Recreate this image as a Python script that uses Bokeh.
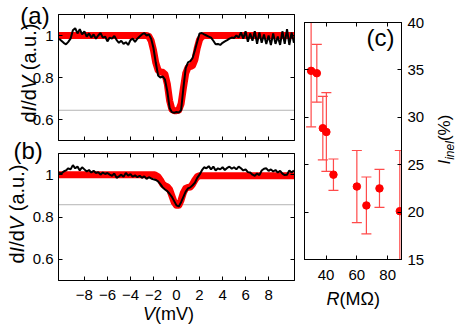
import math
from bokeh.plotting import figure
from bokeh.models import (LinearAxis, FixedTicker, CustomJSTickFormatter, Span, Label,
                          ColumnDataSource, CustomLabelingPolicy, Range1d)
from bokeh.layouts import row, column
from bokeh.embed import file_html
from bokeh.resources import INLINE

FONT = "Liberation Sans"

# ---------------- data ----------------
# bias voltage grid (mV) of the measured traces
v_meas = [round(-10.2 + 0.2 * i, 1) for i in range(103)]

# panel (a): measured dI/dV (a.u.)
g_meas_a = [
    0.985, 0.975, 0.965, 0.958, 0.970, 0.985, 1.025, 1.035, 1.010, 1.030,
    1.005, 1.020, 0.995, 1.010, 0.990, 1.005, 0.985, 1.000, 1.012, 0.990,
    0.995, 0.972, 0.990, 0.985, 0.998, 0.978, 0.965, 0.975, 0.960, 0.968,
    0.955, 0.978, 0.985, 0.970, 0.985, 0.995, 1.005, 1.012, 1.000, 1.005,
    0.985, 0.940, 0.870, 0.810, 0.800, 0.805, 0.790, 0.735, 0.655, 0.635,
    0.632, 0.636, 0.633, 0.645, 0.750, 0.845, 0.872, 0.878, 0.893, 0.930,
    0.970, 1.010, 1.012, 1.005, 1.000, 0.995, 0.990, 0.975, 0.958, 0.960,
    0.955, 0.965, 0.972, 0.978, 0.985, 0.990, 0.988, 1.000, 0.990, 1.015,
    0.985, 1.020, 0.970, 1.010, 0.975, 1.020, 0.960, 1.015, 0.965, 1.005,
    0.960, 1.000, 0.955, 1.010, 0.960, 0.995, 0.955, 1.020, 0.960, 1.030,
    0.955, 1.015, 0.965,
]

# panel (b): measured dI/dV (a.u.)
g_meas_b = [
    1.010, 1.005, 1.015, 1.020, 1.030, 1.025, 1.045, 1.030, 1.038, 1.020,
    1.035, 1.025, 1.015, 1.022, 1.010, 1.018, 1.008, 1.012, 1.000, 1.010,
    1.003, 1.008, 1.000, 0.995, 1.005, 0.985, 0.992, 1.000, 0.990, 1.008,
    0.995, 1.003, 0.990, 0.997, 0.988, 0.995, 0.985, 0.992, 0.980, 0.988,
    0.982, 0.978, 0.975, 0.968, 0.955, 0.940, 0.930, 0.922, 0.910, 0.895,
    0.875, 0.855, 0.850, 0.870, 0.895, 0.920, 0.935, 0.940, 0.950, 0.962,
    0.985, 1.000, 1.020, 1.035, 1.030, 1.040, 1.025, 1.038, 1.020, 1.030,
    1.025, 1.035, 1.022, 1.032, 1.038, 1.028, 1.035, 1.025, 1.038, 1.030,
    1.020, 1.025, 1.012, 1.010, 1.000, 0.995, 1.005, 0.998, 1.020, 1.028,
    1.030, 1.018, 1.025, 1.015, 1.022, 1.010, 1.018, 1.005, 0.998, 1.000,
    1.020, 1.010, 1.020,
]

# fitted curves
v_fit_a = [-10.25, -2.6, -2.4, -2.2, -2.0, -1.8, -1.6, -1.4, -1.2, -1.0, -0.8, -0.6,
           -0.4, -0.2, 0.0, 0.2, 0.4, 0.6, 0.8, 1.0, 1.2, 1.4, 1.6, 1.8, 2.0, 2.2, 2.4, 10.25]
g_fit_a = [1.0, 1.0, 0.995, 0.975, 0.93, 0.87, 0.835, 0.826, 0.825, 0.815, 0.77, 0.69,
           0.648, 0.642, 0.642, 0.645, 0.675, 0.75, 0.82, 0.848, 0.852, 0.858, 0.885,
           0.94, 0.98, 0.995, 1.0, 1.0]

v_fit_b = [-10.25, -1.9, -1.6, -1.4, -1.2, -1.0, -0.8, -0.6, -0.4, -0.2, 0.0, 0.2,
           0.4, 0.6, 0.8, 1.0, 1.2, 1.4, 1.6, 1.8, 2.0, 10.25]
g_fit_b = [1.0, 1.0, 0.99, 0.975, 0.955, 0.947, 0.943, 0.93, 0.9, 0.87, 0.855, 0.855,
           0.88, 0.915, 0.935, 0.94, 0.942, 0.955, 0.975, 0.99, 0.995, 0.995]

# reference levels (grey lines)
level_a = 0.644
level_b = 0.858

# panel (c): inelastic fraction vs resistance
r_mohm = [30.3, 34.0, 37.9, 40.2, 44.8, 60.0, 66.2, 74.7, 87.9]
i_inel = [34.9, 34.65, 28.85, 28.45, 23.95, 22.7, 20.7, 22.5, 20.1]
i_err = [5.9, 3.05, 3.35, 4.15, 1.65, 3.8, 3.0, 2.0, 6.4]

v_ticks = [-8, -6, -4, -2, 0, 2, 4, 6, 8]
g_ticks = [0.6, 0.8, 1.0]
r_ticks = [40, 60, 80]
i_ticks = [15, 20, 25, 30, 35, 40]

# ---------------- helpers ----------------
FMT_CODE = "return tick < 0 ? '\\u2212' + Math.abs(tick) : '' + tick;"
NO_LABELS = """
try { return new indices.constructor(indices.size); } catch (e) {}
try { for (const i of Array.from(indices)) { indices.unset(i); } return indices; } catch (e) {}
return indices;
"""

W_TOTAL, H_TOTAL = 461, 325


def make_fig(w, h, xr, yr, borders):
    p = figure(width=w, height=h, x_range=xr, y_range=yr,
               output_backend="svg", toolbar_location=None,
               x_axis_location=None, y_axis_location=None,
               min_border_left=borders[0], min_border_right=borders[1],
               min_border_top=borders[2], min_border_bottom=borders[3])
    p.grid.visible = False
    p.outline_line_color = "black"
    p.outline_line_width = 1
    p.background_fill_color = "white"
    p.border_fill_color = "white"
    return p


def add_axis(p, side, ticks, labels=False, standoff=0, size="15px"):
    ax = LinearAxis(ticker=FixedTicker(ticks=ticks),
                    formatter=CustomJSTickFormatter(code=FMT_CODE))
    ax.major_tick_in = 4
    ax.major_tick_out = 0
    ax.minor_tick_line_color = None
    ax.axis_line_color = "black"
    ax.major_tick_line_color = "black"
    ax.major_label_text_font = FONT
    ax.major_label_text_color = "black"
    ax.major_label_standoff = standoff
    if labels:
        ax.major_label_text_font_size = size
    else:
        ax.major_label_text_font_size = "0px"
        ax.major_label_policy = CustomLabelingPolicy(code=NO_LABELS)
    p.add_layout(ax, side)
    return ax


# ---------------- panel (a) ----------------
pa = make_fig(300, 146, (-10.25, 10.25), (0.5, 1.1), (58, 6, 14, 6))
pa.add_layout(Span(location=level_a, dimension="width", line_color="#b4b4b4",
                   line_width=1, level="underlay"))
pa.line(v_fit_a, g_fit_a, line_color="#ff0000", line_width=7, line_join="round")
pa.line(v_meas, g_meas_a, line_color="black", line_width=2)
add_axis(pa, "left", g_ticks, labels=True, standoff=5)
add_axis(pa, "right", g_ticks)
add_axis(pa, "below", v_ticks)
add_axis(pa, "above", v_ticks)

# ---------------- panel (b) ----------------
pb = make_fig(300, 179, (-10.25, 10.25), (0.5, 1.1), (58, 6, 7, 45))
pb.add_layout(Span(location=level_b, dimension="width", line_color="#b4b4b4",
                   line_width=1, level="underlay"))
pb.line(v_fit_b, g_fit_b, line_color="#ff0000", line_width=7, line_join="round")
pb.line(v_meas, g_meas_b, line_color="black", line_width=2)
add_axis(pb, "left", g_ticks, labels=True, standoff=5)
add_axis(pb, "right", g_ticks)
add_axis(pb, "below", v_ticks, labels=True, standoff=9)
add_axis(pb, "above", v_ticks)

# ---------------- panel (c) ----------------
pc = make_fig(161, 325, (26, 89), (15, 40), (4, 60, 22, 66))
src = ColumnDataSource(dict(
    r=r_mohm, i=i_inel,
    lo=[a - b for a, b in zip(i_inel, i_err)],
    hi=[a + b for a, b in zip(i_inel, i_err)],
))
ecol = "#ff4a4a"
pc.segment(x0="r", y0="lo", x1="r", y1="hi", source=src, line_color=ecol, line_width=1.2)
pc.scatter(x="r", y="lo", source=src, marker="dash", size=10, line_color=ecol, line_width=1.2)
pc.scatter(x="r", y="hi", source=src, marker="dash", size=10, line_color=ecol, line_width=1.2)
pc.scatter(x="r", y="i", source=src, marker="circle", size=7.5,
           fill_color="#ff0000", line_color="#ff0000")
add_axis(pc, "right", i_ticks, labels=True, standoff=6)
add_axis(pc, "left", i_ticks)
add_axis(pc, "below", r_ticks, labels=True, standoff=10)
add_axis(pc, "above", r_ticks)

# ---------------- transparent overlay (separate root) carrying the free texts ----------------
ov = figure(width=W_TOTAL, height=H_TOTAL, x_range=Range1d(0, 1), y_range=Range1d(0, 1),
            output_backend="svg", toolbar_location=None,
            x_axis_location=None, y_axis_location=None,
            min_border_left=0, min_border_right=0, min_border_top=0, min_border_bottom=0,
            styles={"position": "absolute", "left": "0px", "top": "0px",
                    "z-index": "10", "pointer-events": "none"})
ov.grid.visible = False
ov.outline_line_color = None
ov.background_fill_color = None
ov.border_fill_color = None

BASE_CORR = 0.37  # measured offset of the rendered baseline, in em


def olabel(x, y, text, fs, style="normal", rotated=False):
    # x, y: intended baseline start, pixels from the top-left corner of the chart
    if rotated:
        x -= BASE_CORR * fs
    else:
        y -= BASE_CORR * fs
    ov.add_layout(Label(x=x, y=H_TOTAL - y, x_units="screen", y_units="screen",
                        text=text, text_font=FONT, text_font_size=f"{fs}px",
                        text_font_style=style, text_color="black",
                        angle=math.pi / 2 if rotated else 0.0,
                        text_align="left", text_baseline="alphabetic"))


def ylabel_dIdV(bx, y0, fs=20):
    pieces = [("d", "normal", 0.0), ("I", "italic", 0.556), ("/d", "normal", 0.834),
              ("V", "italic", 1.668), ("(a.u.)", "normal", 2.613)]
    for t, st, off in pieces:
        olabel(bx, y0 - off * fs, t, fs, st, rotated=True)


ylabel_dIdV(35.7, 122)
ylabel_dIdV(24, 263)
olabel(19.8, 24.2, "(a)", 24)
olabel(13, 159.2, "(b)", 24)
olabel(366, 45.5, "(c)", 24)
olabel(142.5, 320.3, "V", 18, "italic")
olabel(154.5, 320.3, "(mV)", 18)
olabel(326, 305, "R", 18, "italic")
olabel(339, 305, "(M\u03a9)", 18)
olabel(450, 164, "I", 17, "italic", rotated=True)
olabel(454, 159.3, "inel", 12, "italic", rotated=True)
olabel(450, 140.6, "(%)", 17, rotated=True)

layout = row(column(pa, pb), pc)
open("out.html", "w").write(file_html([layout, ov], INLINE))
